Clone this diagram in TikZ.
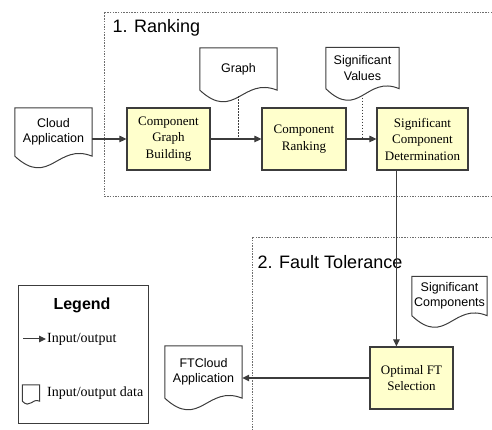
\documentclass[tikz,border=0pt]{standalone}
\usepackage{fontspec}
\setmainfont{Liberation Serif}
\setsansfont{Liberation Sans}
\usetikzlibrary{calc,arrows.meta}
\definecolor{boxfill}{RGB}{255,255,204}
\definecolor{linegray}{RGB}{60,60,60}
\definecolor{framegray}{RGB}{110,110,110}
\newcommand{\docwave}[2]{%
  \draw[docline] (#1.south west) -- (#1.north west) -- (#1.north east) -- (#1.south east)
    .. controls ($(#1.south west)!0.55!(#1.south east)+(0,1.4*#2)$) and ($(#1.south west)!0.45!(#1.south east)+(0,-3.2*#2)$) .. (#1.south west);}

\begin{document}
\begin{tikzpicture}[x=1pt,y=1pt]
       \tikzstyle{process} = [rectangle, draw=linegray, line width=1.2pt, fill=boxfill, align=center, font=\fontsize{13}{16.5}\selectfont, inner sep=1pt];
       \tikzstyle{doc} = [inner sep=0pt, align=center, font=\sffamily\fontsize{12.5}{15.5}\selectfont];
       \tikzstyle{docline} = [draw=linegray, line width=1pt];
       \tikzstyle{flow} = [draw=linegray, line width=1.1pt, -{Triangle[length=7pt,width=6.5pt]}];
       \tikzstyle{link} = [draw=linegray, line width=0.9pt, dash pattern=on 1.5pt off 1.5pt];
       \tikzstyle{frame} = [draw=framegray, line width=0.9pt, dash pattern=on 1.5pt off 1.2pt];
       \tikzstyle{title} = [anchor=west, font=\sffamily\fontsize{18}{20}\selectfont];

       \useasboundingbox (0,0) rectangle (492,430);

       % the two phases
       \draw[frame] (492,418) -- (104,418) -- (104,234) -- (492,234);
       \draw[frame] (492,193) -- (252,193) -- (252,0);
       \node[title] (rankingtitle) at (109,402) {1. Ranking};
       \node[title] (fttitle) at (254,168) {2. Fault Tolerance};

       \node[process, minimum width=83pt, minimum height=62pt] (cgb) at (168.5,291) {Component\\Graph\\Building};
       \node[process, minimum width=84pt, minimum height=62pt] (cr) at (304,291) {Component\\Ranking};
       \node[process, minimum width=91pt, minimum height=62pt] (scd) at (422.5,291) {Significant\\Component\\Determination};
       \node[process, minimum width=83pt, minimum height=62pt] (oft) at (411.5,52) {Optimal FT\\Selection};

       \node[doc, minimum width=77pt, minimum height=48pt] (cloud) at (53.5,298) {Cloud\\Application};
       \node[doc, minimum width=77pt, minimum height=42pt] (graph) at (238.5,361) {Graph};
       \node[doc, minimum width=73pt, minimum height=41pt] (sigval) at (362.5,362) {Significant\\Values};
       \node[doc, minimum width=75pt, minimum height=39pt] (sigcomp) at (449.5,134) {Significant\\Components};
       \node[doc, minimum width=77pt, minimum height=52pt] (ftcloud) at (203.5,58) {FTCloud\\Application};
       \docwave{cloud}{10}
       \docwave{graph}{10}
       \docwave{sigval}{10}
       \docwave{sigcomp}{10}
       \docwave{ftcloud}{10}

       \draw[flow] (cloud.east |- cgb.west) -- (cgb.west);
       \draw[flow] (cgb.east) -- (cr.west);
       \draw[flow] (cr.east) -- (scd.west);
       \coordinate (tap) at ($(scd.south west)+(20,0)$);
       \draw[flow] (tap) -- (tap |- oft.north);
       \draw[flow] (oft.west) -- (oft.west -| ftcloud.east);

       \draw[link] ($(graph.south)+(0,-6)$) -- (graph.south |- cr.west);
       \draw[link] ($(sigval.south)+(0,-6)$) -- (sigval.south |- scd.west);
       \draw[link] ($(sigcomp.west)+(0,-5)$) -- ($(sigcomp.west)+(0,-5)$ -| tap);

       % legend
       \node[draw=linegray, line width=1pt, minimum width=130pt, minimum height=138pt] (legend) at (83,75) {};
       \node[font=\sffamily\bfseries\fontsize{16}{18}\selectfont] (legendtitle) at (82,125) {Legend};
       \coordinate (keyarrow) at (23,91);
       \node[anchor=west, font=\fontsize{14}{16}\selectfont, inner sep=1pt] (keyflow) at (46,91) {Input/output};
       \draw[flow, line width=1pt] (keyarrow) -- (keyflow.west);
       \node[doc, minimum width=17pt, minimum height=16pt] (keydoc) at (31,37) {};
       \docwave{keydoc}{2.5}
       \node[anchor=west, font=\fontsize{14}{16}\selectfont, inner sep=1pt] (keydata) at (46,37) {Input/output data};
\end{tikzpicture}
\end{document}
